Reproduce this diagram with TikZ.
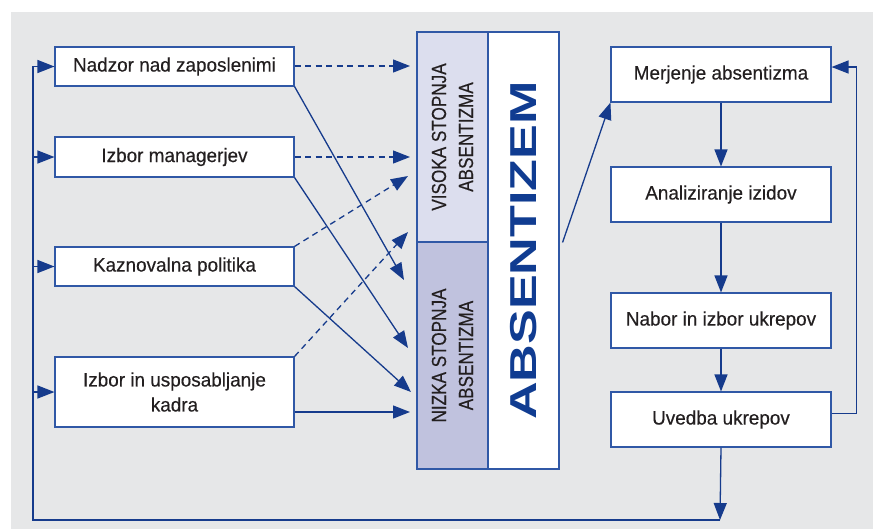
\documentclass[tikz,border=0pt]{standalone}
\usepackage{fontspec}
\setmainfont{Liberation Sans}
\newfontfamily\boxfont{Liberation Sans}[FakeStretch=0.97,FakeBold=0.35]
\newfontfamily\vfont{Liberation Sans}[FakeStretch=0.84,FakeBold=0.3]
\newfontfamily\bigfont{Liberation Sans Bold}[FakeStretch=1.39]
\usetikzlibrary{arrows.meta,calc}
\definecolor{lineblue}{RGB}{22,59,140}
\definecolor{boxblue}{RGB}{48,88,166}
\definecolor{visfill}{RGB}{220,222,238}
\definecolor{nizfill}{RGB}{192,194,222}
\definecolor{bggray}{RGB}{230,231,232}
\definecolor{txt}{RGB}{35,31,32}
\definecolor{bigblue}{RGB}{16,60,145}
\tikzset{
  box/.style={draw=boxblue, line width=1.1pt, fill=white, inner sep=0pt, align=center,
    text=txt, font=\fontsize{19.5}{25}\boxfont},
  lbox/.style={box, minimum width=239pt},
  rbox/.style={box, minimum width=220pt, minimum height=55pt},
  col/.style={draw=boxblue, line width=1.1pt, inner sep=0pt, minimum width=71pt},
  arr/.style={draw=lineblue, line width=1.3pt, -{Triangle[length=17pt,width=13pt]}},
  darr/.style={arr, dash pattern=on 6pt off 4.5pt},
}
\begin{document}
\begin{tikzpicture}[x=1pt,y=-1pt]
\useasboundingbox (0,0) rectangle (873,531);
\fill[bggray] (11,12) rectangle (873,529);
% left boxes
\node[lbox, minimum height=39pt] (n1) at (174.5,66.5) {Nadzor nad zaposlenimi};
\node[lbox, minimum height=40pt] (n2) at (174.5,157) {Izbor managerjev};
\node[lbox, minimum height=39pt] (n3) at (174.5,266.5) {Kaznovalna politika};
\node[lbox, minimum height=70pt] (n4) at (174.5,392) {Izbor in usposabljanje\\kadra};
% middle block
\node[col, fill=visfill, minimum height=210pt] (vis) at (452.5,137) {};
\node[col, fill=nizfill, minimum height=227pt] (niz) at (452.5,355.5) {};
\node[col, fill=white, minimum height=437pt] (abs) at (523.5,250.5) {};
\node[rotate=90, text=txt, align=center, font=\fontsize{20.4}{27}\vfont] (vist) at (vis.center) {VISOKA STOPNJA\\ABSENTIZMA};
\node[rotate=90, text=txt, align=center, font=\fontsize{20.4}{27}\vfont] (nizt) at (niz.center) {NIZKA STOPNJA\\ABSENTIZMA};
\node[rotate=90, text=bigblue, inner sep=0pt, font=\fontsize{37.5}{40}\bigfont] (abst) at (abs.center) {ABSENTIZEM};
% right boxes
\node[rbox] (me) at (721,74.5) {Merjenje absentizma};
\node[rbox] (an) at (721,194.5) {Analiziranje izidov};
\node[rbox] (nb) at (721,320.5) {Nabor in izbor ukrepov};
\node[rbox] (uv) at (721,419.5) {Uvedba ukrepov};
% target coordinates at middle block
\coordinate (t1) at (410,66);
\coordinate (t2) at (410,157);
\coordinate (t3) at (408,176);
\coordinate (t4) at (408,232);
\coordinate (s1) at (404,280);
\coordinate (s2) at (408,348);
\coordinate (s3) at (411,392);
\coordinate (bl) at (33,520);
\coordinate (br) at (720,520);
% dashed connectors
\draw[darr] (n1.east |- t1) -- (t1);
\draw[darr] (n2.east) -- (t2);
\draw[darr] (n3.north east) -- (t3);
\draw[darr] (n4.north east) -- (t4);
% solid connectors
\draw[arr] (n1.south east) -- (s1);
\draw[arr] (n2.south east) -- (s2);
\draw[arr] (n3.south east) -- (s3);
\draw[arr] ([yshift=-20pt]n4.east) -- ([yshift=-20pt]n4.east -| t1);
% absentizem to right
\draw[arr] ([xshift=3pt,yshift=8pt]abs.east) -- (me.south west);
% right chain
\draw[arr] (me) -- (an);
\draw[arr] (an) -- (nb);
\draw[arr] (nb) -- (uv);
\draw[arr] ([yshift=6pt]uv.east) -- ++(25,0) |- ([yshift=7.5pt]me.east);
% bottom loop
\draw[arr] (uv.south) -- (br);
\draw[arr] (br) -- (bl) |- (n1.west);
\draw[arr] (bl |- n2.west) -- (n2.west);
\draw[arr] (bl |- n3.west) -- (n3.west);
\draw[arr] (bl |- n4.west) -- (n4.west);
\end{tikzpicture}
\end{document}
